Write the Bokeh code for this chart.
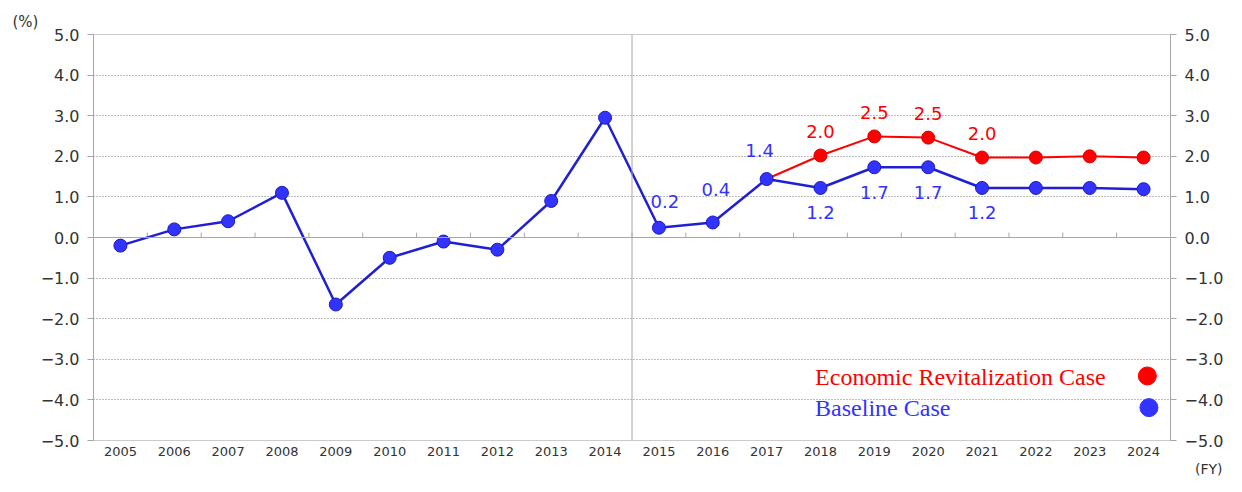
from bokeh.plotting import figure
from bokeh.models import Range1d, LinearAxis, FixedTicker, Span, ColumnDataSource, Title
from bokeh.embed import file_html
from bokeh.resources import INLINE
from bokeh.core.properties import value

years = [str(y) for y in range(2005, 2025)]
baseline = [-0.2, 0.2, 0.4, 1.1, -1.65, -0.5, -0.1, -0.3, 0.9, 2.95,
            0.24, 0.37, 1.44, 1.22, 1.73, 1.73, 1.22, 1.22, 1.22, 1.19]
revital_years = years[12:]
revital = [1.44, 2.02, 2.49, 2.46, 1.97, 1.97, 2.0, 1.97]
y_ticks = [-5, -4, -3, -2, -1, 0, 1, 2, 3, 4, 5]

series_names = ["Economic Revitalization Case", "Baseline Case"]
RED = "#ff0000"
BLUE = "#3333ff"
BLUE_LINE = "#1f1fd6"
GRAY = "#a6a6a6"
NUMFONT = "DejaVu Sans"

xi = {y: i for i, y in enumerate(years)}
bx = [xi[y] for y in years]
rx = [xi[y] for y in revital_years]

p = figure(width=1226, height=476, output_backend="svg", toolbar_location=None,
           x_range=Range1d(-0.5, len(years) - 0.5), y_range=Range1d(-5, 5),
           min_border_left=93, min_border_right=55, min_border_top=34, min_border_bottom=4)
p.outline_line_color = None
p.background_fill_color = "white"
p.border_fill_color = "white"
p.xgrid.visible = False
p.ygrid.ticker = FixedTicker(ticks=y_ticks)
p.ygrid.grid_line_color = "#7a7a7a"
p.ygrid.grid_line_dash = "1 2"

# axes
fmt = {v: (f"{v:.1f}".replace("-", "\u2212")) for v in y_ticks}
ya = p.yaxis[0]
ya.ticker = FixedTicker(ticks=y_ticks)
ya.major_label_overrides = fmt
ya.axis_line_color = GRAY
ya.major_tick_line_color = GRAY
ya.major_tick_out = 6
ya.major_tick_in = 0
ya.minor_tick_line_color = None
ya.major_label_standoff = 8
ya.major_label_text_font = NUMFONT
ya.major_label_text_font_size = "16px"
ya.major_label_text_color = "#333333"

ra = LinearAxis(ticker=FixedTicker(ticks=y_ticks))
ra.major_label_overrides = fmt
ra.axis_line_color = GRAY
ra.major_tick_line_color = GRAY
ra.major_tick_out = 6
ra.major_tick_in = 0
ra.minor_tick_line_color = None
ra.major_label_standoff = 8
ra.major_label_text_font = NUMFONT
ra.major_label_text_font_size = "16px"
ra.major_label_text_color = "#333333"
p.add_layout(ra, "right")

xa = p.xaxis[0]
xa.ticker = FixedTicker(ticks=bx)
xa.major_label_overrides = {i: y for i, y in enumerate(years)}
xa.axis_line_color = None
xa.major_tick_line_color = None
xa.minor_tick_line_color = None
xa.major_tick_out = 0
xa.major_label_standoff = 6
xa.major_label_text_font = NUMFONT
xa.major_label_text_font_size = "13px"
xa.major_label_text_color = "#333333"

# frame lines
p.add_layout(Span(location=5, dimension="width", line_color="#333333", line_dash="1 1", line_width=1))
p.add_layout(Span(location=-5, dimension="width", line_color="#333333", line_dash="1 1", line_width=1))
p.add_layout(Span(location=0, dimension="width", line_color=GRAY, line_width=1))
p.add_layout(Span(location=xi["2014"] + 0.5, dimension="height", line_color=GRAY, line_width=1))

bounds = [i + 0.5 for i in range(len(years) - 1)]
p.segment(x0=bounds, y0=[0] * len(bounds), x1=bounds, y1=[0.12] * len(bounds),
          line_color=GRAY, line_width=1)

# series
p.line(rx, revital, line_color=RED, line_width=2)
p.line(bx, baseline, line_color=BLUE_LINE, line_width=2.5)
p.scatter(rx[1:], revital[1:], size=13, fill_color=RED, line_color="#e00000", line_width=1)
p.scatter(bx, baseline, size=13, fill_color=BLUE, line_color="#1a1ac0", line_width=1)

# value labels
red_lab = ColumnDataSource(dict(x=rx[1:5], y=revital[1:5], t=[f"{v:.1f}" for v in revital[1:5]]))
p.text("x", "y", text="t", source=red_lab, text_color=RED, text_font=value(NUMFONT),
       text_font_size="18px", text_align="center", text_baseline="middle", y_offset=-24)
blue_low = ColumnDataSource(dict(x=bx[13:17], y=baseline[13:17], t=[f"{v:.1f}" for v in baseline[13:17]]))
p.text("x", "y", text="t", source=blue_low, text_color=BLUE, text_font=value(NUMFONT),
       text_font_size="18px", text_align="center", text_baseline="middle", y_offset=25)
blue_up = ColumnDataSource(dict(x=bx[10:13], y=baseline[10:13], t=[f"{v:.1f}" for v in baseline[10:13]],
                                dx=[6, 3, -7], dy=[-26, -33, -29]))
p.text("x", "y", text="t", source=blue_up, text_color=BLUE, text_font=value(NUMFONT),
       text_font_size="18px", text_align="center", text_baseline="middle",
       x_offset="dx", y_offset="dy")

# unit labels
p.add_layout(Title(text="(%)", align="left", offset=-81, standoff=8,
                   text_font=NUMFONT, text_font_size="15px", text_font_style="normal",
                   text_color="#333333"), "above")
p.add_layout(Title(text="(FY)", align="right", offset=-52, standoff=0,
                   text_font=NUMFONT, text_font_size="14px", text_font_style="normal",
                   text_color="#333333"), "below")

# legend
p.text(x=[12.9, 12.9], y=[-3.43, -4.19], text=series_names, text_color=[RED, BLUE],
       text_font=value("Liberation Serif"), text_font_size="24px",
       text_align="left", text_baseline="middle")
p.scatter(x=[19.07, 19.1], y=[-3.41, -4.19], size=18, fill_color=[RED, BLUE],
          line_color=[RED, BLUE])

open("out.html", "w").write(file_html(p, INLINE))
